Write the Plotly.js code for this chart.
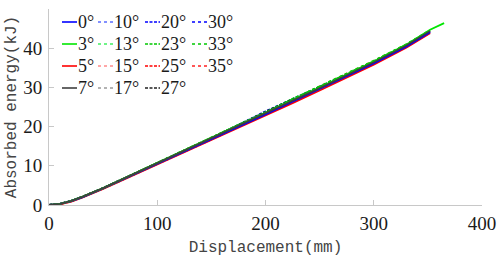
<!DOCTYPE html>
<html>
<head>
<meta charset="utf-8">
<script src="https://cdn.plot.ly/plotly-3.0.1.min.js"></script>
<style>html,body{margin:0;padding:0;background:#fff;}#chart{width:498px;height:257px;}</style>
</head>
<body>
<div id="chart"></div>
<script>
// Displacement (mm) sample points
const disp  = [0, 10, 20, 30, 50, 75, 100, 150, 200, 225, 250, 300, 330, 352];
const disp3 = [0, 10, 20, 30, 50, 75, 100, 150, 200, 225, 250, 300, 330, 352, 365];

// Absorbed energy (kJ) per impact angle
const e0  = [0, 0.3, 0.9, 1.9, 4.2, 7.4, 10.5, 16.8, 23.1, 26.3, 29.5, 36.1, 40.4, 44.1];
const e3  = [0, 0.3, 1.0, 2.0, 4.3, 7.5, 10.7, 17.0, 23.5, 26.8, 30.0, 36.6, 40.9, 44.7, 46.4];
const e5  = [0, 0.2, 0.8, 1.8, 4.1, 7.2, 10.3, 16.5, 22.8, 26.0, 29.2, 35.8, 40.1, 43.8];
const e7  = [0, 0.3, 1.0, 2.0, 4.3, 7.5, 10.6, 16.9, 23.3, 26.5, 29.8, 36.4, 40.7, 44.4];
const e10 = [0, 0.3, 1.0, 2.0, 4.3, 7.5, 10.6, 16.9, 23.4, 26.7, 29.9, 36.4, 40.6, 44.2];
const e13 = [0, 0.3, 1.0, 2.0, 4.3, 7.5, 10.7, 17.0, 23.5, 26.8, 30.1, 36.6, 40.8, 44.4];
const e15 = [0, 0.3, 1.0, 2.0, 4.3, 7.5, 10.7, 17.0, 23.6, 26.9, 30.3, 36.8, 40.9, 44.5];
const e17 = [0, 0.3, 1.0, 2.0, 4.3, 7.4, 10.6, 16.9, 23.3, 26.6, 29.9, 36.4, 40.6, 44.3];
const e20 = [0, 0.3, 1.0, 2.0, 4.3, 7.5, 10.6, 17.0, 23.9, 27.0, 30.0, 36.4, 40.6, 44.2];
const e23 = [0, 0.3, 1.0, 2.0, 4.3, 7.5, 10.7, 17.1, 23.7, 27.1, 30.2, 36.7, 40.9, 44.5];
const e25 = [0, 0.2, 0.9, 1.9, 4.2, 7.3, 10.4, 16.7, 23.2, 26.5, 29.6, 36.1, 40.3, 44.0];
const e27 = [0, 0.3, 1.0, 2.0, 4.3, 7.5, 10.6, 17.0, 23.8, 26.9, 30.0, 36.5, 40.7, 44.3];
const e30 = [0, 0.3, 1.0, 2.0, 4.3, 7.5, 10.6, 17.0, 23.7, 26.9, 30.0, 36.5, 40.7, 44.3];
const e33 = [0, 0.3, 1.0, 2.0, 4.3, 7.5, 10.7, 17.1, 23.6, 27.0, 30.2, 36.8, 41.0, 44.6];
const e35 = [0, 0.2, 0.9, 1.9, 4.2, 7.3, 10.4, 16.8, 23.3, 26.6, 29.8, 36.3, 40.5, 44.2];

// Series labels, colours and dash styles (legend order, row by row)
const labels = ['0°','10°','20°','30°','3°','13°','23°','33°','5°','15°','25°','35°','7°','17°','27°'];
const colors = ['#0000ff','#5a6cff','#0000ff','#0000ff',
                '#00e600','#40f060','#00c800','#00c800',
                '#ff0000','#ff8a8a','#ff0000','#ff2020',
                '#404040','#9a9a9a','#202020'];
const dashes = ['solid','dot','3px,1.5px','3px,3px',
                'solid','dot','3px,1.5px','3px,3px',
                'solid','dot','3px,1.5px','3px,3px',
                'solid','dot','3px,1.5px'];
const xs = [disp, disp, disp, disp, disp3, disp, disp, disp, disp, disp, disp, disp, disp, disp, disp];
const ys = [e0, e10, e20, e30, e3, e13, e23, e33, e5, e15, e25, e35, e7, e17, e27];

// draw order (bottom to top)
const drawOrder = [1, 5, 9, 13, 2, 6, 10, 14, 3, 7, 11, 8, 0, 4, 12];

const traces = drawOrder.map(i => ({
  type: 'scatter', mode: 'lines', x: xs[i], y: ys[i], name: labels[i],
  line: {color: colors[i], width: 1.8, dash: dashes[i]}, showlegend: false
}));

const SERIF = '"Liberation Serif", "Times New Roman", serif';
const MONO = '"Liberation Mono", "DejaVu Sans Mono", monospace';

// geometry of the plot area in pixels (for the compact legend placement)
const W = 498, H = 257, mL = 49, mR = 16, mT = 9, mB = 52;
const pw = W - mL - mR, ph = H - mT - mB;
const colLineX = [62, 98, 145, 192];
const rowY = [22, 44, 66, 88];
const lineLen = 15;

const shapes = [], annotations = [];
labels.forEach((lab, k) => {
  const r = Math.floor(k / 4), c = k % 4;
  const px0 = colLineX[c], py = rowY[r];
  const yp = (H - mB - py) / ph;
  shapes.push({type: 'line', xref: 'paper', yref: 'paper',
    x0: (px0 - mL) / pw, x1: (px0 + lineLen - mL) / pw, y0: yp, y1: yp,
    line: {color: colors[k], width: 1.6, dash: dashes[k]}});
  annotations.push({xref: 'paper', yref: 'paper', x: (px0 + lineLen - mL) / pw, y: yp,
    xanchor: 'left', yanchor: 'middle', showarrow: false, text: lab,
    font: {family: SERIF, size: 18, color: '#1a1a1a'}, borderpad: 0});
});

const axisCommon = {
  showline: true, linecolor: '#c8c8c8', linewidth: 1,
  ticks: 'inside', ticklen: 5, tickcolor: '#c8c8c8', tickwidth: 1,
  showgrid: false, zeroline: false,
  tickfont: {family: SERIF, size: 19, color: '#1a1a1a'}
};

const layout = {
  width: W, height: H,
  margin: {l: mL, r: mR, t: mT, b: mB},
  paper_bgcolor: '#ffffff', plot_bgcolor: '#ffffff',
  showlegend: false,
  xaxis: Object.assign({}, axisCommon, {
    range: [0, 400], dtick: 100, tick0: 0, ticklabelstandoff: 1,
    title: {text: 'Displacement(mm)', font: {family: MONO, size: 16, color: '#444'}, standoff: 10}
  }),
  yaxis: Object.assign({}, axisCommon, {
    range: [0, 50], dtick: 10, tick0: 0, ticklabelstandoff: 2,
    title: {text: 'Absorbed energy(kJ)', font: {family: MONO, size: 16, color: '#444'}, standoff: 2}
  }),
  shapes: shapes,
  annotations: annotations
};

Plotly.newPlot('chart', traces, layout, {staticPlot: true, displayModeBar: false});
</script>
</body>
</html>
